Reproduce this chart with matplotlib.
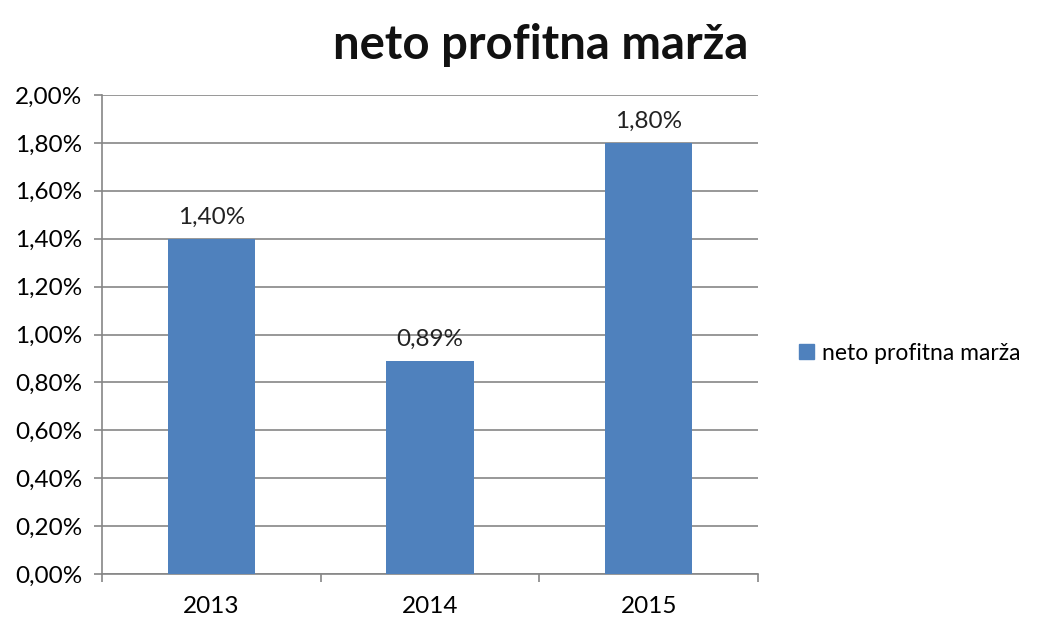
import matplotlib.pyplot as plt
from matplotlib.patches import Patch

# podaci
godine = ["2013", "2014", "2015"]
marza = [1.40, 0.89, 1.80]
oznake = ["1,40%", "0,89%", "1,80%"]
yticks = [0.0, 0.2, 0.4, 0.6, 0.8, 1.0, 1.2, 1.4, 1.6, 1.8, 2.0]
ytick_labels = ["0,00%", "0,20%", "0,40%", "0,60%", "0,80%", "1,00%",
                "1,20%", "1,40%", "1,60%", "1,80%", "2,00%"]

plt.rcParams['font.family'] = ['Lato', 'DejaVu Sans']
boja = "#4F81BD"
siva = "#868686"
fs = 17.5

fig = plt.figure(figsize=(10.38, 6.18), dpi=100)
ax = fig.add_axes([102/1038, 44/618, 656/1038, 479/618])

x = list(range(len(godine)))
ax.bar(x, marza, width=0.4, color=boja, zorder=3)
for xi, v, t in zip(x, marza, oznake):
    ax.annotate(t, (xi, v), xytext=(0, 8), textcoords="offset points",
                ha="center", va="bottom", fontsize=fs, color="#222222")

ax.set_xlim(-0.5, 2.5)
ax.set_ylim(0, 2.0)
ax.set_yticks(yticks)
ax.set_yticklabels(ytick_labels, fontsize=fs)
ax.set_xticks(x)
ax.set_xticklabels(godine, fontsize=fs)
ax.set_xticks([-0.5, 0.5, 1.5, 2.5], minor=True)
ax.tick_params(axis="x", which="major", length=0, pad=16)
ax.tick_params(axis="x", which="minor", length=6, color=siva, width=1.2)
ax.tick_params(axis="y", length=6, color=siva, width=1.2, pad=8)
ax.yaxis.grid(True, color=siva, linewidth=1.2, zorder=0)

for s in ["top", "right"]:
    ax.spines[s].set_visible(False)
for s in ["left", "bottom"]:
    ax.spines[s].set_color(siva)
    ax.spines[s].set_linewidth(1.2)

fig.text(541/1038, 1 - 45/618, "neto profitna marža", ha="center", va="center",
         fontsize=34, fontweight="bold", color="#111111")

fig.legend(handles=[Patch(color=boja, label="neto profitna marža")],
           loc="center left", bbox_to_anchor=(799/1038, 1 - 353/618),
           frameon=False, fontsize=16.5, handlelength=0.65, handleheight=0.65,
           handletextpad=0.35, borderpad=0, borderaxespad=0)

fig.savefig("out.png", dpi=100)
